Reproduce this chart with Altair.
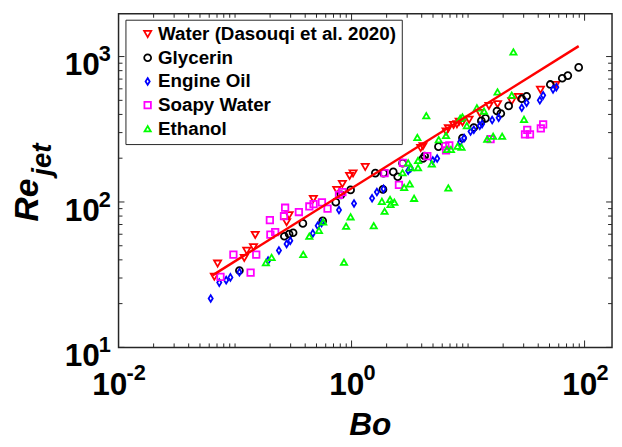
import altair as alt
import pandas as pd

fluids = ["Water (Dasouqi et al. 2020)", "Glycerin", "Engine Oil", "Soapy Water", "Ethanol"]
colors = ["#FF0000", "#000000", "#0000FF", "#FF00FF", "#00FF00"]
shapes = ["triangle-down", "circle", "M0,-1L0.62,0L0,1L-0.62,0Z", "square", "triangle-up"]

water_bo = [0.0664, 0.0708, 0.120, 0.126, 0.144, 0.149, 0.277, 0.291, 0.470, 0.746, 0.834, 0.962, 1.03, 1.31, 3.92,
            4.10, 6.47, 6.77, 7.51, 8.02, 8.39, 8.95, 10.2, 12.6, 15.1, 17.9, 23.7, 27.0, 41.8, 56.5]
water_re = [30.6, 37.7, 41.2, 46.2, 48.9, 59.3, 72.6, 81.0, 105, 121, 133, 151, 157, 174, 235,
            242, 305, 321, 339, 342, 357, 353, 368, 410, 458, 471, 493, 527, 591, 638]

gly_bo = [0.109, 0.265, 0.291, 0.315, 0.382, 0.565, 0.732, 0.811, 0.981, 1.60, 1.88, 2.28, 1.86, 2.74, 2.49,
          4.10, 4.24, 5.57, 8.95, 11.2, 13.0, 14.1, 17.7, 19.1, 22.3, 28.9, 31.8, 50.8, 64.3, 71.8, 89.0]
gly_re = [33.8, 58.1, 60.2, 61.4, 71.2, 74.1, 99.7, 112, 121, 158, 158, 161, 122, 185, 149,
          199, 207, 240, 275, 325, 361, 376, 422, 406, 458, 513, 533, 643, 709, 740, 842]

oil_bo = [0.0618, 0.0732, 0.0839, 0.0912, 0.109, 0.192, 0.238, 0.277, 0.298, 0.465, 0.512, 0.553, 0.780, 1.05, 1.50,
          1.65, 1.88, 3.06, 3.22, 4.98, 5.43, 8.55, 9.25, 10.5, 11.2, 12.6, 13.2, 16.1, 18.3, 28.9,
          31.8, 41.3, 44.1, 53.6, 57.2]
oil_re = [21.7, 27.9, 29.0, 30.3, 32.9, 39.5, 46.4, 51.5, 54.2, 60.8, 68.7, 71.8, 88.0, 97.7, 106,
          117, 123, 164, 171, 193, 199, 258, 275, 305, 314, 335, 344, 366, 380, 444,
          482, 500, 541, 595, 616]

soap_bo = [0.0750, 0.0968, 0.152, 0.136, 0.199, 0.201, 0.221, 0.269, 0.263, 0.353, 0.434, 0.472, 0.557, 0.622, 0.780,
           0.834, 1.92, 2.76, 2.55, 4.47, 6.38, 6.47, 6.90, 15.6, 30.8, 34.0, 32.2, 42.1, 44.1]
soap_re = [30.5, 43.4, 43.4, 32.7, 75.0, 59.6, 62.1, 91.3, 79.8, 85.3, 93.1, 96.6, 99.3, 89.9, 112,
           117, 158, 186, 131, 207, 242, 226, 245, 270, 292, 292, 313, 321, 342]

eth_bo = [0.184, 0.206, 0.385, 0.434, 0.525, 0.571, 0.861, 0.898, 0.981, 1.55, 1.82, 1.92, 2.16, 2.33, 2.74,
          2.14, 2.83, 3.16, 3.44, 3.06, 3.22, 3.72, 3.72, 4.88, 6.77, 3.67, 4.38, 5.60, 6.47, 6.60,
          7.13, 8.13, 8.79, 8.55, 8.95, 9.76, 11.9, 13.7, 14.6, 16.4, 19.6, 17.9, 23.7, 30.2, 24.5]
eth_re = [38.3, 41.6, 43.6, 58.1, 63.8, 73.0, 38.5, 68.2, 79.1, 68.7, 101, 86.3, 96.2, 99.7, 159,
          104, 126, 133, 106, 186, 172, 172, 193, 183, 125, 278, 392, 268, 287, 230,
          230, 242, 238, 376, 384, 335, 444, 422, 270, 283, 283, 571, 542, 370, 1076]

fit_bo = [0.064, 89.0]
fit_re = [31.3, 1180]

x_major = [0.01, 1, 100]
x_minor = [0.02, 0.03, 0.04, 0.05, 0.06, 0.07, 0.08, 0.09, 0.1, 0.2, 0.3, 0.4, 0.5, 0.6, 0.7, 0.8, 0.9,
           2, 3, 4, 5, 6, 7, 8, 9, 10, 20, 30, 40, 50, 60, 70, 80, 90]
y_major = [10, 100, 1000]
y_minor = [20, 30, 40, 50, 60, 70, 80, 90, 200, 300, 400, 500, 600, 700, 800, 900]
x_exps = ["-2", "0", "2"]
y_exps = ["1", "2", "3"]

W, H = 500, 338
FONT = "Liberation Sans"
AX = "#262626"

xs = alt.Scale(type="log", domain=[0.01, 172], nice=False)
ys = alt.Scale(type="log", domain=[10, 1968], nice=False)

rows = []
for name, bo, re in zip(fluids, [water_bo, gly_bo, oil_bo, soap_bo, eth_bo],
                        [water_re, gly_re, oil_re, soap_re, eth_re]):
    for b, r in zip(bo, re):
        rows.append({"fluid": name, "Bo": b, "Re": r})
pts_df = pd.DataFrame(rows)
pts_df["order"] = range(len(pts_df))

legend = alt.Legend(title=None, orient="none", legendX=7, legendY=6, labelFont=FONT, labelFontSize=19,
                    labelFontWeight=700, labelColor="black", labelLimit=400, symbolSize=40,
                    symbolStrokeWidth=1.8, padding=5, rowPadding=4, strokeColor=AX, fillColor="white",
                    symbolOffset=8, labelOffset=1, cornerRadius=0)

points = alt.Chart(pts_df).mark_point(filled=False, strokeWidth=1.8, opacity=1).encode(
    x=alt.X("Bo:Q", scale=xs, axis=None),
    y=alt.Y("Re:Q", scale=ys, axis=None),
    color=alt.Color("fluid:N", scale=alt.Scale(domain=fluids, range=colors), legend=legend),
    shape=alt.Shape("fluid:N", scale=alt.Scale(domain=fluids, range=shapes), legend=legend),
    size=alt.Size("fluid:N", scale=alt.Scale(domain=fluids, range=[52, 40, 58, 36, 52]), legend=None),
    order=alt.Order("order:Q"),
)

fit = alt.Chart(pd.DataFrame({"Bo": fit_bo, "Re": fit_re})).mark_line(color="#FF0000", strokeWidth=2.5).encode(
    x=alt.X("Bo:Q", scale=xs, axis=None),
    y=alt.Y("Re:Q", scale=ys, axis=None),
)

def xticks(vals, ln):
    d = pd.DataFrame({"v": vals})
    base = alt.Chart(d).mark_rule(color=AX, strokeWidth=1)
    b = base.encode(x=alt.X("v:Q", scale=xs, axis=None), y=alt.value(H), y2=alt.value(H - ln))
    t = base.encode(x=alt.X("v:Q", scale=xs, axis=None), y=alt.value(0), y2=alt.value(ln))
    return [b, t]

def yticks(vals, ln):
    d = pd.DataFrame({"v": vals})
    base = alt.Chart(d).mark_rule(color=AX, strokeWidth=1)
    l = base.encode(y=alt.Y("v:Q", scale=ys, axis=None), x=alt.value(0), x2=alt.value(ln))
    r = base.encode(y=alt.Y("v:Q", scale=ys, axis=None), x=alt.value(W), x2=alt.value(W - ln))
    return [l, r]

ticks = xticks(x_major, 7) + xticks(x_minor, 4) + yticks(y_major, 6) + yticks(y_minor, 4)

xl_df = pd.DataFrame({"v": x_major, "e": x_exps})
xlabels = []
for cond, off in [("length(datum.e) == 1", 13), ("length(datum.e) > 1", 9)]:
    ten = alt.Chart(xl_df).transform_filter(cond).mark_text(
        align="right", baseline="alphabetic", dx=off, font=FONT, fontSize=32, fontWeight="bold", color="black"
    ).encode(x=alt.X("v:Q", scale=xs, axis=None), y=alt.value(H + 48), text=alt.value("10"))
    ex = alt.Chart(xl_df).transform_filter(cond).mark_text(
        align="left", baseline="alphabetic", dx=off - 1, font=FONT, fontSize=22, fontWeight="bold", color="black"
    ).encode(x=alt.X("v:Q", scale=xs, axis=None), y=alt.value(H + 33), text="e:N")
    xlabels += [ten, ex]

yl_df = pd.DataFrame({"v": y_major, "e": y_exps})
yten = alt.Chart(yl_df).mark_text(
    align="right", baseline="alphabetic", dy=19, font=FONT, fontSize=32, fontWeight="bold", color="black"
).encode(y=alt.Y("v:Q", scale=ys, axis=None), x=alt.value(-19), text=alt.value("10"))
yex = alt.Chart(yl_df).mark_text(
    align="left", baseline="alphabetic", dy=5, font=FONT, fontSize=22, fontWeight="bold", color="black"
).encode(y=alt.Y("v:Q", scale=ys, axis=None), x=alt.value(-20), text="e:N")

bo_title = alt.Chart(pd.DataFrame({"t": ["Bo"]})).mark_text(
    align="center", baseline="alphabetic", font=FONT, fontSize=32, fontWeight="bold", fontStyle="italic", color="black"
).encode(x=alt.value(255), y=alt.value(H + 89), text="t:N")

re_title = alt.Chart(pd.DataFrame({"t": ["Re"]})).mark_text(
    align="right", baseline="alphabetic", angle=270, font=FONT, fontSize=34, fontWeight="bold", fontStyle="italic",
    color="black"
).encode(x=alt.value(-82), y=alt.value(167), text="t:N")

jet_title = alt.Chart(pd.DataFrame({"t": ["jet"]})).mark_text(
    align="left", baseline="alphabetic", angle=270, font=FONT, fontSize=28, fontWeight="bold", fontStyle="italic",
    color="black"
).encode(x=alt.value(-68), y=alt.value(164), text="t:N")

chart = alt.layer(
    *ticks, points, fit, *xlabels, yten, yex, bo_title, re_title, jet_title
).properties(
    width=W, height=H,
    autosize=alt.AutoSizeParams(type="none"),
    padding={"left": 112, "top": 3, "right": 2, "bottom": 95},
).configure_view(
    stroke=AX, strokeWidth=1.5
).configure_legend(
    labelFont=FONT, labelFontSize=19, labelFontWeight=700, labelColor="black", labelLimit=400
)

chart.save("out.html", embed_options={"renderer": "svg", "actions": False})
